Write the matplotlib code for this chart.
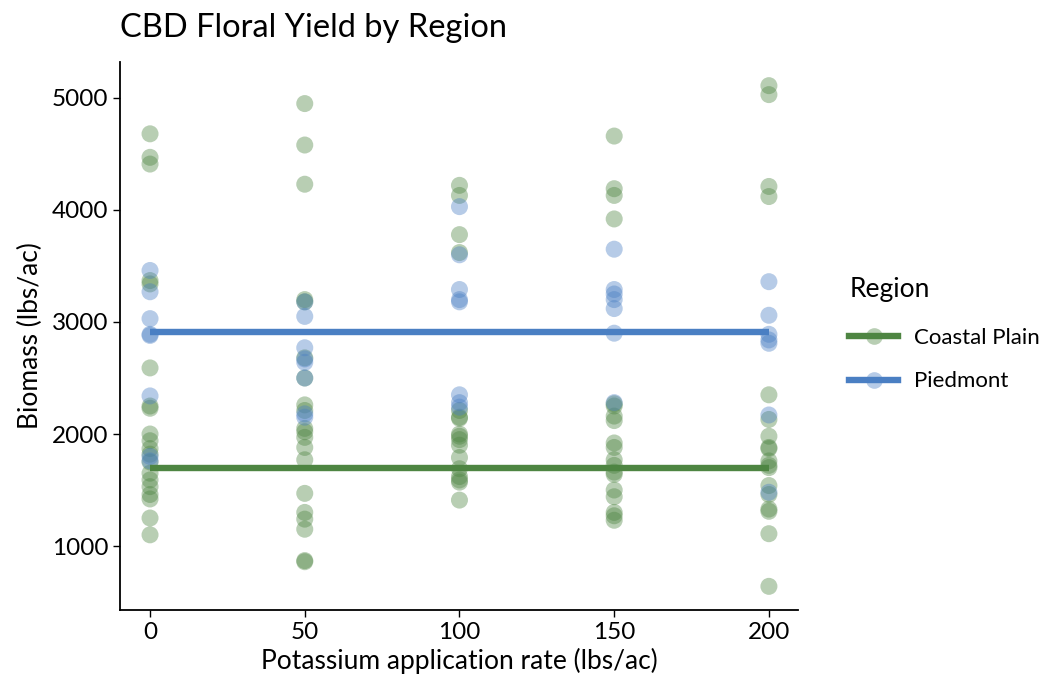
import matplotlib
matplotlib.use("Agg")
import matplotlib.pyplot as plt
from matplotlib.lines import Line2D
import numpy as np

plt.rcParams['font.family'] = ['Lato', 'DejaVu Sans']

# potassium rates
rates = [0, 50, 100, 150, 200]

# biomass readings (lbs/ac), Coastal Plain
coastal = {
    0: [4680, 4470, 4410, 3370, 3340, 2590, 2250, 2230, 2000, 1940, 1870, 1820,
        1750, 1650, 1590, 1530, 1460, 1420, 1250, 1100],
    50: [4950, 4580, 4230, 3200, 3180, 2680, 2500, 2260, 2210, 2050, 2020, 1970,
         1880, 1770, 1470, 1300, 1240, 1150, 870, 860],
    100: [4220, 4130, 3780, 3620, 2210, 2150, 2140, 2000, 1980, 1950, 1900, 1790,
          1690, 1620, 1590, 1570, 1410],
    150: [4660, 4190, 4130, 3920, 2270, 2250, 2160, 2120, 1920, 1880, 1770, 1720,
          1660, 1640, 1500, 1440, 1300, 1270, 1230],
    200: [5110, 5030, 4210, 4120, 2350, 2130, 1980, 1880, 1870, 1760, 1720, 1700,
          1540, 1460, 1330, 1310, 1110, 640],
}

# biomass readings (lbs/ac), Piedmont
piedmont = {
    0: [3460, 3270, 3030, 2890, 2880, 2340, 1800, 1760],
    50: [3180, 3050, 2770, 2670, 2640, 2500, 2180, 2150],
    100: [4030, 3600, 3290, 3200, 3180, 2350, 2280, 2240],
    150: [3650, 3290, 3250, 3200, 3120, 2900, 2280],
    200: [3360, 3060, 2890, 2840, 2810, 2170, 1480],
}

# fitted (flat) lines
fit_coastal = 1695
fit_piedmont = 2910

green = "#4E8542"
blue = "#4A7FC3"

fig = plt.figure(figsize=(10.5, 7), dpi=100)
ax = fig.add_axes([0.1143, 0.1286, 0.6457, 0.7828])

for r in rates:
    ax.scatter([r] * len(coastal[r]), coastal[r], s=150, color=green, alpha=0.4,
               edgecolors='none', zorder=2)
    ax.scatter([r] * len(piedmont[r]), piedmont[r], s=150, color=blue, alpha=0.4,
               edgecolors='none', zorder=2)

ax.plot([rates[0], rates[-1]], [fit_coastal, fit_coastal], color=green, lw=4.6,
        solid_capstyle='butt', zorder=3)
ax.plot([rates[0], rates[-1]], [fit_piedmont, fit_piedmont], color=blue, lw=4.6,
        solid_capstyle='butt', zorder=3)

ax.set_xlim(-9.7, 209.4)
ax.set_ylim(429, 5321)
ax.set_xticks(rates)
ax.set_yticks([1000, 2000, 3000, 4000, 5000])
ax.tick_params(labelsize=17.5, length=5, width=1, colors='black')
for s in ['top', 'right']:
    ax.spines[s].set_visible(False)
for s in ['left', 'bottom']:
    ax.spines[s].set_linewidth(1.3)

ax.set_xlabel('Potassium application rate (lbs/ac)', fontsize=19, labelpad=4)
ax.set_ylabel('Biomass (lbs/ac)', fontsize=19, labelpad=6)
fig.text(0.1143, 0.96, 'CBD Floral Yield by Region', fontsize=23.5, ha='left', va='center')

h_coastal = (Line2D([], [], marker='o', ls='none', ms=12, color=green, alpha=0.4, mec='none'),
             Line2D([], [], color=green, lw=4.6))
h_pied = (Line2D([], [], marker='o', ls='none', ms=12, color=blue, alpha=0.4, mec='none'),
          Line2D([], [], color=blue, lw=4.6))
leg = fig.legend([h_coastal, h_pied], ['Coastal Plain', 'Piedmont'], title='Region',
                 loc='upper left', bbox_to_anchor=(0.792, 0.63), frameon=False,
                 fontsize=16, title_fontsize=19, handlelength=2.2, labelspacing=1.05,
                 handletextpad=0.7, borderpad=0.3)
leg._legend_box.align = 'left'
leg._legend_box.sep = 19

fig.savefig('out.png', dpi=100)
